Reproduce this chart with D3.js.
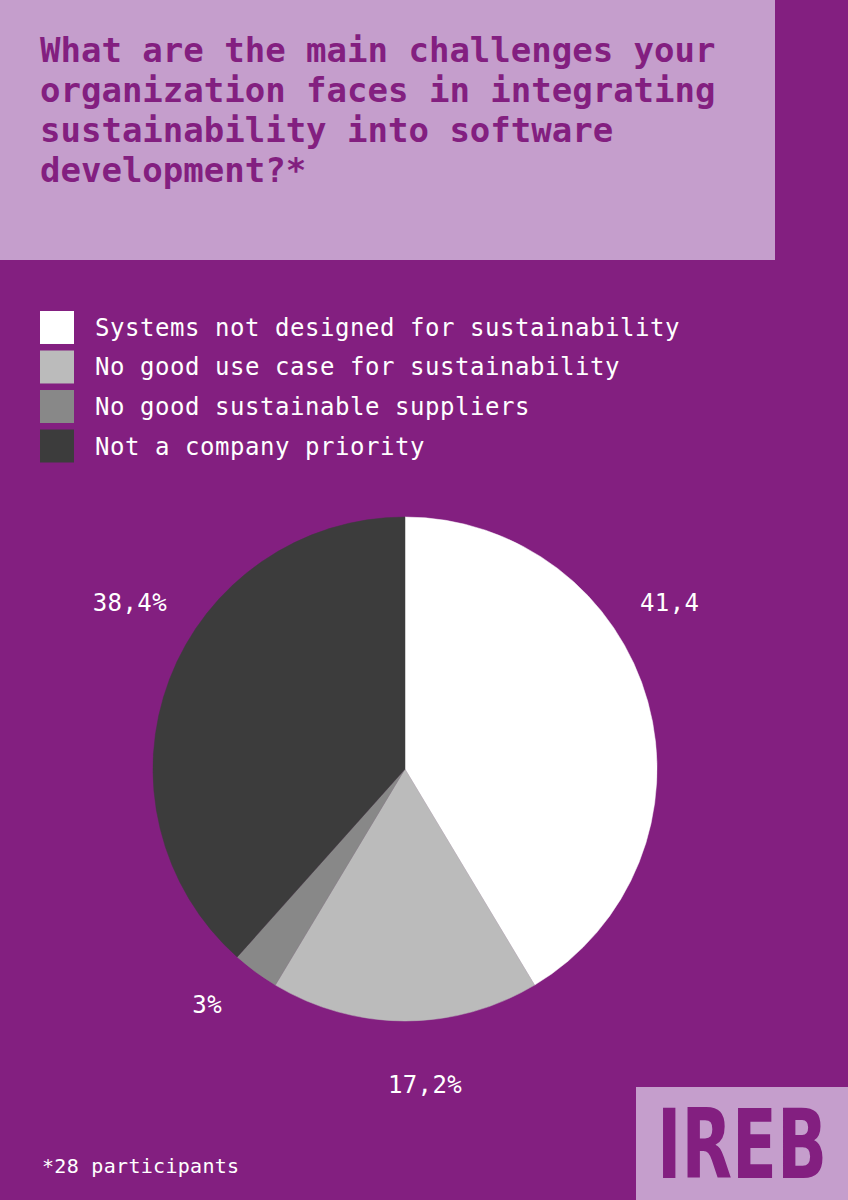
<!DOCTYPE html>
<html>
<head>
<meta charset="utf-8">
<script src="https://cdn.jsdelivr.net/npm/d3@7"></script>
<style>
    body { margin: 0; background: #831f80; }
    svg { display: block; }
</style>
</head>
<body>
<div id="chart"></div>
<script>
var categories = ['Systems not designed for sustainability', 'No good use case for sustainability',
    'No good sustainable suppliers', 'Not a company priority'];
var shares = [41.4, 17.2, 3, 38.4];
var share_labels = ['41,4', '17,2%', '3%', '38,4%'];
var slice_colors = ['#ffffff', '#bbbbbb', '#888888', '#3c3c3c'];
var title_lines = ['What are the main challenges your', 'organization faces in integrating',
    'sustainability into software', 'development?*'];
var footnote = '*28 participants';

var width = 848;
var height = 1200;
var purple = '#831f80';
var light_purple = '#c59ecc';
var mono = "'DejaVu Sans Mono', 'Liberation Mono', monospace";

var svg = d3.select('#chart')
    .append('svg')
    .attr('width', width)
    .attr('height', height);

svg.append('rect')
    .attr('width', width)
    .attr('height', height)
    .attr('fill', purple);

// title box
svg.append('rect')
    .attr('width', 775)
    .attr('height', 260)
    .attr('fill', light_purple);

svg.append('g')
    .selectAll('text')
    .data(title_lines)
    .enter()
    .append('text')
    .attr('x', 40)
    .attr('y', function (d, i) {
        return 62 + i * 40;
    })
    .attr('font-family', mono)
    .attr('font-weight', 'bold')
    .attr('font-size', '34px')
    .attr('fill', purple)
    .text(function (d) { return d; });

// legend: 33px swatches, 39.5px apart
var legend_y = d3.scaleBand()
    .domain(categories)
    .range([311, 462.5])
    .paddingInner(0.165)
    .paddingOuter(0);

var color_scale = d3.scaleOrdinal()
    .domain(categories)
    .range(slice_colors);

var legend = svg.append('g').attr('class', 'legend');

legend.selectAll('rect')
    .data(categories)
    .enter()
    .append('rect')
    .attr('x', 40)
    .attr('y', function (d) { return legend_y(d); })
    .attr('width', 34)
    .attr('height', legend_y.bandwidth())
    .attr('fill', function (d) { return color_scale(d); });

legend.selectAll('text')
    .data(categories)
    .enter()
    .append('text')
    .attr('x', 95)
    .attr('y', function (d) { return legend_y(d) + legend_y.bandwidth() / 2 + 8.5; })
    .attr('font-family', mono)
    .attr('font-size', '24px')
    .attr('letter-spacing', '0.55px')
    .attr('fill', '#ffffff')
    .text(function (d) { return d; });

// pie
var cx = 405;
var cy = 769;
var radius = 252;

var pie = d3.pie()
    .sort(null)
    .value(function (d) { return d; });

var arc = d3.arc()
    .innerRadius(0)
    .outerRadius(radius);

var arcs = pie(shares);

var pie_g = svg.append('g')
    .attr('transform', 'translate(' + cx + ',' + cy + ')');

pie_g.selectAll('path')
    .data(arcs)
    .enter()
    .append('path')
    .attr('d', arc)
    .attr('fill', function (d, i) { return slice_colors[i]; })
    .attr('stroke', function (d, i) { return slice_colors[i]; })
    .attr('stroke-width', 0.5);

// labels sit outside the pie along each slice's mid angle, nudged like the original
var label_radius = [330, 314, 300, 330];
var label_anchor = ['start', 'middle', 'middle', 'end'];
var label_nudge = [[0, 0], [20, 2], [-20, -6], [0, 0]];

pie_g.selectAll('.pct')
    .data(arcs)
    .enter()
    .append('text')
    .attr('class', 'pct')
    .attr('transform', function (d, i) {
        var a = (d.startAngle + d.endAngle) / 2;
        if (i === 0 || i === 3) {
            // side labels share one row above the center
            return 'translate(' + (i === 0 ? 235 : -238) + ',' + (-158) + ')';
        }
        var r = label_radius[i];
        var x = Math.sin(a) * r + label_nudge[i][0];
        var y = -Math.cos(a) * r + 8 + label_nudge[i][1];
        return 'translate(' + x + ',' + y + ')';
    })
    .attr('text-anchor', function (d, i) { return label_anchor[i]; })
    .attr('font-family', mono)
    .attr('font-size', '24px')
    .attr('letter-spacing', '0.4px')
    .attr('fill', '#ffffff')
    .text(function (d, i) { return share_labels[i]; });

// footnote
svg.append('text')
    .attr('x', 42)
    .attr('y', 1173)
    .attr('font-family', mono)
    .attr('font-size', '20px')
    .attr('letter-spacing', '0.3px')
    .attr('fill', '#ffffff')
    .text(footnote);

// IREB logo corner
svg.append('rect')
    .attr('x', 636)
    .attr('y', 1087)
    .attr('width', width - 636)
    .attr('height', height - 1087)
    .attr('fill', light_purple);

var logo = svg.append('text')
    .attr('font-family', "'DejaVu Sans', sans-serif")
    .attr('font-weight', 'bold')
    .attr('font-size', '97px')
    .attr('fill', purple)
    .text('IREB');

// squeeze the word into the 170px slot
var logo_w = logo.node().getComputedTextLength();
logo.attr('transform', 'translate(657,1178) scale(' + (170 / logo_w) + ',1)');
</script>
</body>
</html>
